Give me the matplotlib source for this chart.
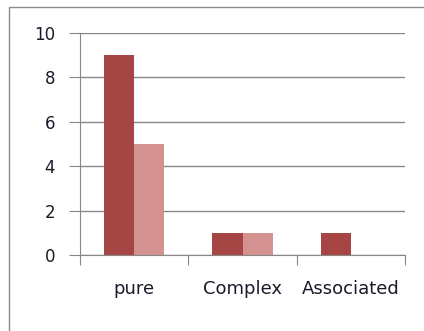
import matplotlib.pyplot as plt
import numpy as np
from matplotlib.patches import Rectangle

categories = ["pure", "Complex", "Associated"]
series_a = [9, 1, 1]
series_b = [5, 1, 0]

DARK = "#A64644"
LIGHT = "#D39190"
GRID = "#878787"

plt.rcParams.update({"font.family": "DejaVu Sans", "font.size": 12})

fig = plt.figure(figsize=(4.24, 3.31), dpi=100)
fig.patches.append(Rectangle((9 / 424, -0.1), 1.2, 1 - 7 / 331 + 0.1, transform=fig.transFigure,
                             fill=False, edgecolor="#8c8c8c", lw=1.0))
ax = fig.add_axes([80 / 424, 1 - 255 / 331, 325 / 424, 222 / 331])

x = np.arange(len(categories))
w = 0.278
ax.bar(x - w / 2, series_a, w, color=DARK)
ax.bar(x + w / 2, series_b, w, color=LIGHT)

ax.set_xlim(-0.5, 2.5)
ax.set_ylim(0, 10)
ax.set_yticks([0, 2, 4, 6, 8, 10])
ax.yaxis.grid(True, color=GRID, lw=1.0)
ax.set_axisbelow(True)
for s in ["top", "right"]:
    ax.spines[s].set_visible(False)
for s in ["left", "bottom"]:
    ax.spines[s].set_color(GRID)
ax.tick_params(axis="y", length=8, color=GRID, pad=10, labelcolor="#1a1a2a")

ax.set_xticks([-0.5, 0.5, 1.5, 2.5])
ax.set_xticklabels([])
ax.tick_params(axis="x", which="major", length=7, color=GRID)
ax.set_xticks(x, minor=True)
ax.set_xticklabels(categories, minor=True, fontsize=13)
ax.tick_params(axis="x", which="minor", length=0, pad=18, labelcolor="#1a1a2a")

fig.savefig("out.png", dpi=100)
